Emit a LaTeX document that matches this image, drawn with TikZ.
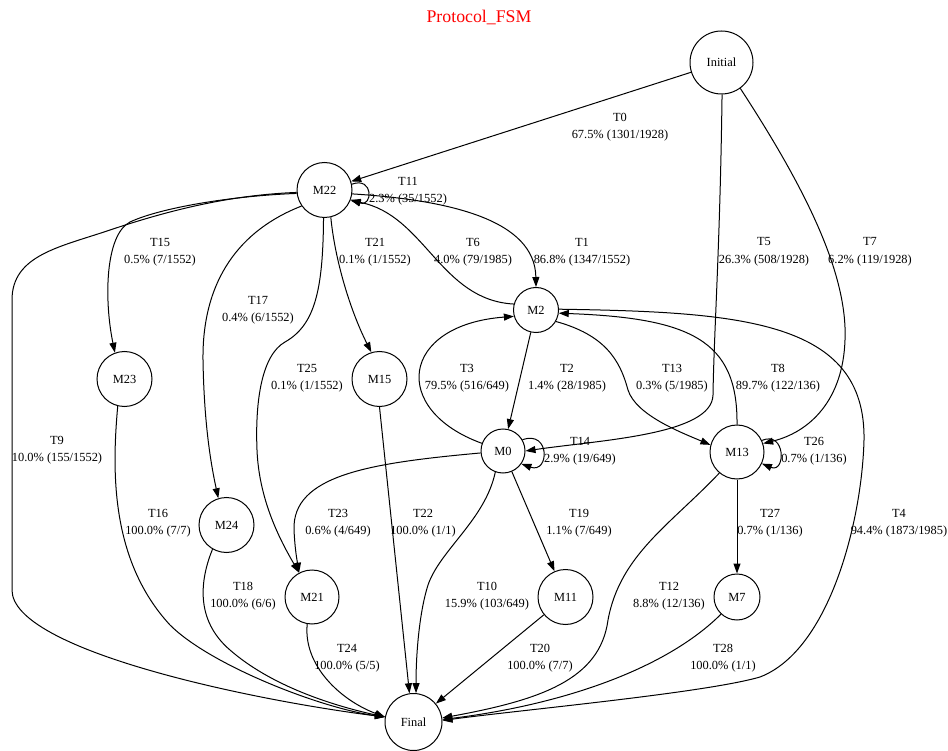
\documentclass[tikz,border=0pt]{standalone}
\usepackage{fontspec}
\setmainfont{Liberation Serif}
\usetikzlibrary{arrows.meta}
\begin{document}
\begin{tikzpicture}[x=1pt,y=-1pt,
  state/.style={circle,draw=black,line width=1pt,inner sep=0pt,
    font=\fontsize{12.4}{15}\selectfont},
  tr/.style={draw=black,line width=1pt,-{Triangle[length=10pt,width=7pt]}},
  lbl/.style={align=center,inner sep=0pt,font=\fontsize{12.4}{17.5}\selectfont}]
\useasboundingbox (0,0) rectangle (948,751);
\fill[white] (0,0) rectangle (948,751);

% title
\node[text=red,font=\fontsize{17.8}{20}\selectfont] (title) at (479,17) {Protocol\_FSM};

% states
\node[state,minimum size=63pt] (init) at (721.5,62.5) {Initial};
\node[state,minimum size=55pt] (m22) at (324.5,190) {M22};
\node[state,minimum size=45pt] (m2) at (536,310) {M2};
\node[state,minimum size=44pt] (m0) at (503,451) {M0};
\node[state,minimum size=54pt] (m13) at (737,452) {M13};
\node[state,minimum size=55pt] (m23) at (124.5,379) {M23};
\node[state,minimum size=55pt] (m15) at (379.5,379) {M15};
\node[state,minimum size=55pt] (m24) at (226.5,525) {M24};
\node[state,minimum size=54pt] (m21) at (312,597) {M21};
\node[state,minimum size=55pt] (m11) at (565.5,597) {M11};
\node[state,minimum size=46pt] (m7) at (737,597) {M7};
\node[state,minimum size=57pt] (fin) at (413.5,722) {Final};

% transitions
\draw[tr] (init) -- (m22);
\draw[tr] (m22.12) .. controls +(22,-8) and +(22,8) .. (m22.-20);
\draw[tr] (m22.-8) .. controls (450,200) and (535,220) .. (m2.north);
\draw[tr] (m2.165) .. controls (440,300) and (425,215) .. (m22.-22);
\draw[tr] (m22.187) .. controls (230,196) and (160,208) .. (130,222)
  .. controls (105,235) and (104,300) .. (m23.110);
\draw[tr] (m22.185) .. controls (230,195) and (170,210) .. (110,230)
  .. controls (60,247) and (12,255) .. (12,300) -- (12,590)
  .. controls (12,650) and (250,700) .. (fin.170);
\draw[tr] (m22.215) .. controls (240,230) and (202,280) .. (203,360)
  .. controls (204,420) and (210,460) .. (m24.107);
\draw[tr] (m22.268) .. controls (323,290) and (315,325) .. (285,342)
  .. controls (262,355) and (255,400) .. (257,450)
  .. controls (259,500) and (280,540) .. (m21.118);
\draw[tr] (m22.283) .. controls (335,260) and (350,310) .. (m15.107);
\draw[tr] (init.-89) .. controls (720,250) and (714,330) .. (713,395)
  .. controls (712,435) and (600,440) .. (m0.east);
\draw[tr] (init.-54) .. controls (800,180) and (848,270) .. (845,340)
  .. controls (843,400) and (810,432) .. (m13.18);
\draw[tr] (m2) -- (m0);
\draw[tr] (m0.160) .. controls (390,410) and (400,325) .. (m2.196);
\draw[tr] (m2.-30) .. controls (605,335) and (620,360) .. (628,390)
  .. controls (636,415) and (680,432) .. (m13.165);
\draw[tr] (m13.north) .. controls (738,340) and (690,318) .. (m2.-8);
\draw[tr] (m2.2) .. controls (740,312) and (866,320) .. (864,440)
  .. controls (862,520) and (830,650) .. (760,677)
  .. controls (705,693) and (520,710) .. (fin.3);
\draw[tr] (m0.30) .. controls +(28,-10) and +(28,10) .. (m0.-35);
\draw[tr] (m13.25) .. controls +(24,-10) and +(24,10) .. (m13.-25);
\draw[tr] (m0.-175) .. controls (370,463) and (292,475) .. (294,530)
  .. controls (295,550) and (297,560) .. (m21.118);
\draw[tr] (m0.-110) .. controls (485,520) and (440,550) .. (428,585)
  .. controls (420,610) and (416,650) .. (fin.85);
\draw[tr] (m0) -- (m11);
\draw[tr] (m15.south) -- (fin.98);
\draw[tr] (m11) -- (fin);
\draw[tr] (m13.-130) .. controls (670,525) and (620,555) .. (608,620)
  .. controls (600,680) and (540,700) .. (fin.8);
\draw[tr] (m13) -- (m7);
\draw[tr] (m7.-133) .. controls (665,670) and (560,705) .. (fin.5);
\draw[tr] (m23.-104) .. controls (112,470) and (110,560) .. (170,625)
  .. controls (210,665) and (320,708) .. (fin.170);
\draw[tr] (m24.240) .. controls (200,580) and (195,620) .. (230,650)
  .. controls (270,685) and (330,705) .. (fin.170);
\draw[tr] (m21.260) .. controls (303,665) and (340,700) .. (fin.170);

% transition labels
\node[lbl] (lt0) at (620,127) {T0\\67.5\% (1301/1928)};
\node[lbl] (lt11) at (408,191) {T11\\2.3\% (35/1552)};
\node[lbl] (lt15) at (160,252) {T15\\0.5\% (7/1552)};
\node[lbl] (lt21) at (375,252) {T21\\0.1\% (1/1552)};
\node[lbl] (lt6) at (473,252) {T6\\4.0\% (79/1985)};
\node[lbl] (lt1) at (582,252) {T1\\86.8\% (1347/1552)};
\node[lbl] (lt5) at (764,252) {T5\\26.3\% (508/1928)};
\node[lbl] (lt7) at (870,252) {T7\\6.2\% (119/1928)};
\node[lbl] (lt17) at (258,310) {T17\\0.4\% (6/1552)};
\node[lbl] (lt25) at (307,378) {T25\\0.1\% (1/1552)};
\node[lbl] (lt3) at (467,378) {T3\\79.5\% (516/649)};
\node[lbl] (lt2) at (567,378) {T2\\1.4\% (28/1985)};
\node[lbl] (lt13) at (672,378) {T13\\0.3\% (5/1985)};
\node[lbl] (lt8) at (778,378) {T8\\89.7\% (122/136)};
\node[lbl] (lt9) at (57,450) {T9\\10.0\% (155/1552)};
\node[lbl] (lt14) at (580,451) {T14\\2.9\% (19/649)};
\node[lbl] (lt26) at (814,451) {T26\\0.7\% (1/136)};
\node[lbl] (lt16) at (158,523) {T16\\100.0\% (7/7)};
\node[lbl] (lt23) at (338,523) {T23\\0.6\% (4/649)};
\node[lbl] (lt22) at (423,523) {T22\\100.0\% (1/1)};
\node[lbl] (lt19) at (579,523) {T19\\1.1\% (7/649)};
\node[lbl] (lt27) at (770,523) {T27\\0.7\% (1/136)};
\node[lbl] (lt4) at (899,523) {T4\\94.4\% (1873/1985)};
\node[lbl] (lt18) at (243,596) {T18\\100.0\% (6/6)};
\node[lbl] (lt10) at (487,596) {T10\\15.9\% (103/649)};
\node[lbl] (lt12) at (669,596) {T12\\8.8\% (12/136)};
\node[lbl] (lt24) at (347,658) {T24\\100.0\% (5/5)};
\node[lbl] (lt20) at (540,658) {T20\\100.0\% (7/7)};
\node[lbl] (lt28) at (723,658) {T28\\100.0\% (1/1)};
\end{tikzpicture}
\end{document}
